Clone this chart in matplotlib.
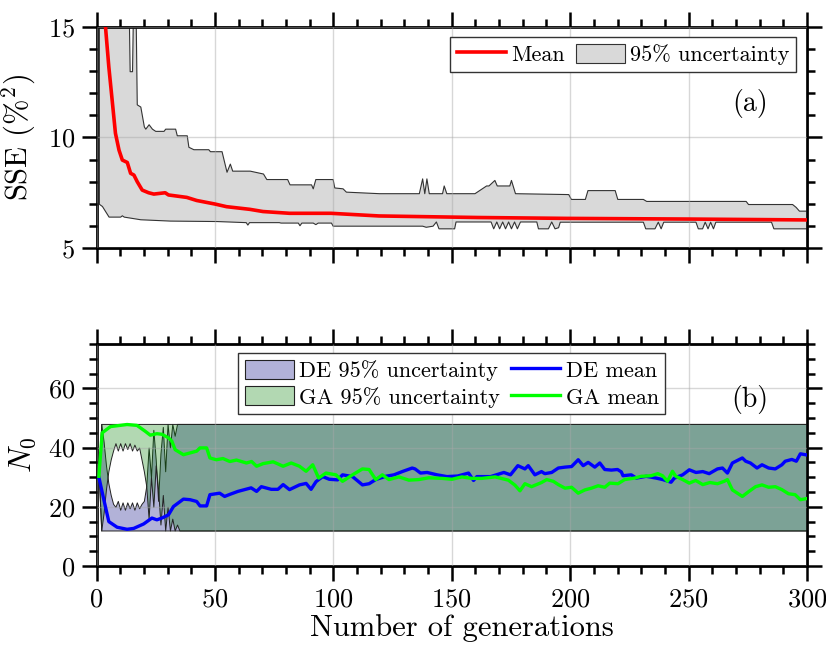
import numpy as np
import matplotlib
matplotlib.use("Agg")
import matplotlib.pyplot as plt
from matplotlib.patches import Patch
from matplotlib.lines import Line2D

plt.rcParams['font.family'] = 'cmr10'
plt.rcParams['mathtext.fontset'] = 'cm'
plt.rcParams['axes.formatter.use_mathtext'] = True

# ---------------- (a) SSE ----------------
sse_up_x = [1, 13, 14, 15, 16, 17, 18.5, 20, 20.6, 22, 23.4, 24.8, 28.3, 29, 33.2, 33.9, 38.1, 38.8,
            40.9, 47.2, 47.9, 52.8, 54.9, 56.3, 57.3, 64.7, 70.3, 71.7, 80.5, 81.5, 90.6, 91.3, 92.4,
            99.7, 100.4, 103.9, 105.3, 119.3, 136.1, 137.5, 138.4, 139.3, 140.3, 145.9, 146.6, 147.7,
            159.6, 164.5, 165.5, 168, 169, 174.3, 175, 176.7, 199.2, 200.3, 206.2, 207.3, 218.8, 219.9,
            230.7, 232.1, 274.1, 275.1, 293.7, 295.2, 296.6, 300]
sse_up = [20, 20, 13.0, 13.0, 20, 11.5, 11.4, 10.5, 10.4, 10.6, 10.4, 10.3, 10.3, 10.4, 10.4, 10.1, 10.1, 9.58,
          9.47, 9.47, 9.38, 9.38, 8.45, 8.82, 8.5, 8.5, 8.37, 8.12, 8.12, 7.88, 7.88, 7.70, 8.12,
          8.12, 7.74, 7.7, 7.55, 7.48, 7.48, 8.15, 7.48, 8.15, 7.48, 7.48, 7.83, 7.48,
          7.48, 7.83, 7.83, 8.08, 7.83, 7.83, 8.08, 7.48, 7.44, 7.22, 7.22, 7.62, 7.62, 7.22,
          7.22, 7.13, 7.13, 6.99, 6.99, 6.86, 6.69, 6.69]

sse_lo_x = [1, 2.3, 5.1, 10, 10.7, 11.5, 18.5, 31, 50.6, 63, 63.7, 64.4, 77, 77.7, 85, 85.7, 86.5, 91.3,
            92.4, 93.4, 99, 99.7, 137.5, 139, 141.9, 143.3, 144.4, 151, 151.6, 166.4, 167.5, 168.8, 170,
            171.3, 172.5, 173.8, 175, 176.3, 177.5, 178.8, 185.7, 186.4, 190.6, 192, 193.4, 194.9, 195.6,
            230.7, 231.7, 235.6, 237, 238.2, 239.3, 252.9, 253.9, 255.7, 256.8, 258, 259.1, 260.3, 261.3,
            262.4, 284.8, 285.8, 300]
sse_lo = [7.0, 6.9, 6.42, 6.42, 6.48, 6.42, 6.3, 6.24, 6.22, 6.17, 6.06, 6.17, 6.17, 6.15, 6.15, 6.03, 6.15, 6.15,
          6.08, 6.15, 6.15, 6.01, 6.01, 5.96, 6.01, 6.2, 5.89, 5.89, 6.2, 6.2, 5.89, 6.2, 5.89,
          6.2, 5.89, 6.2, 5.89, 6.2, 5.89, 6.2, 6.2, 5.89, 5.89, 6.2, 5.89, 5.94, 6.19,
          6.19, 5.89, 5.89, 6.19, 5.89, 6.19, 6.19, 5.89, 5.89, 6.19, 5.89, 6.19, 5.89, 6.19,
          6.19, 6.19, 5.89, 5.89]

sse_mean_x = [1, 2, 3, 3.8, 5.2, 6.6, 8, 9.5, 10.9, 13, 14.4, 15.8, 17.2, 19.3, 22, 24.2, 29, 30.4, 38.1,
              42.3, 50, 54.9, 64.7, 70.3, 81.5, 99, 119.3, 161, 198.6, 250, 300]
sse_mean = [30, 21, 17, 15, 13.2, 11.7, 10.19, 9.43, 8.98, 8.87, 8.38, 8.3, 8.0, 7.62, 7.5, 7.44, 7.5, 7.4, 7.29,
            7.15, 6.99, 6.87, 6.75, 6.65, 6.57, 6.57, 6.45, 6.38, 6.34, 6.31, 6.27]

# ---------------- (b) N0 ----------------
de_up_x = [1, 2, 3, 4, 5, 6, 7, 8, 9, 10, 11, 12, 13, 14, 15, 16, 17, 18, 19, 20, 21, 22, 23, 24, 25,
           26, 27, 28, 29, 30, 31, 32, 33, 34, 35, 300]
de_up = [30, 48, 42, 34, 28, 24, 21, 20, 22, 19, 21.5, 19, 21.5, 19.5, 21.5, 19, 21.5, 19.5, 21, 22, 27, 40,
         30, 46, 36, 22, 38, 47, 32, 48, 40, 48, 44, 48, 48, 48]
de_lo_x = [1, 2, 300]
de_lo = [30, 12, 12]

ga_lo_x = de_up_x
ga_lo = [30, 12, 18, 26, 32, 36, 39, 41.5, 39, 41.5, 39, 41.5, 39.5, 41.5, 39, 41, 39, 40, 36, 32, 27, 16,
         30, 20, 34, 26, 14, 24, 12, 20, 12, 16, 12, 14, 12, 12]
ga_up_x = [1, 2, 300]
ga_up = [30, 48, 48]

ga_mean_x = [1, 2.4, 5.9, 12.9, 17.1, 20.6, 22.7, 25.5, 27.6, 30.4, 31.8, 33.2, 36.7, 39.5, 42.3, 43.7, 46.5,
             47.9, 50.6, 53.4, 56.3, 59.1, 63.3, 65.5, 67.6, 70.4, 74.6, 78.8, 82.2, 85.7, 88.5, 91.3, 93.8,
             96.9, 101.1, 103.9, 108.1, 112.3, 115.1, 117.9, 120.7, 123.5, 127.7, 131.9, 136.1, 140.3, 145.9,
             150.1, 154.3, 158.5, 162.7, 168.3, 173.9, 176.7, 178.8, 180.9, 183.7, 187.9, 190.1, 192.9, 195,
             197.8, 200.6, 203.4, 206.2, 209, 211.8, 214.6, 216.7, 220.2, 223, 227.2, 230, 234.2, 237, 239,
             241.1, 243.2, 244.6, 247.5, 250.3, 253, 256, 259, 262.2, 265, 266.4, 268.5, 272.7, 275.5, 278.3,
             281, 283.8, 286.6, 289.4, 292.2, 295, 297.2, 300]
ga_mean = [30.3, 45, 47.1, 47.8, 47.5, 45.5, 44.2, 44.7, 44.5, 43.3, 42.2, 39.3, 37.6, 38.2, 38.8, 39.9, 39.9,
           36.5, 35.9, 36.3, 35.3, 35.8, 34.8, 35.3, 33.7, 34.6, 35.2, 33.7, 34.8, 33.7, 32, 34.2, 29.7,
           31.4, 30.8, 28.6, 30.8, 32.8, 32.6, 29.2, 30.8, 29.2, 30.1, 29, 29.2, 29.8, 29.6,
           29.3, 30.1, 29.6, 29.6, 30.1, 29, 27.3, 25.4, 27.8, 26.8, 28.2, 29.2, 28.6, 27.5,
           26.3, 26.6, 24.6, 25.7, 26.3, 27.1, 26.6, 28, 27.8, 29.2, 29.7, 30.3, 30.5, 31.2, 30.5,
           28.6, 32.0, 30.3, 29.2, 28, 28.9, 27.5, 28.2, 27.8, 28.6, 29.2, 25.7, 23.5, 25.2, 26.8,
           27.4, 26.6, 26.8, 25.8, 24.4, 24.1, 22.4, 22.8]

de_mean_x = [1, 3.1, 5.2, 8.7, 12.9, 15.7, 19.9, 23.4, 25.5, 27.6, 30.4, 32.5, 36.7, 39.5, 42.3, 43.7, 46.5,
             47.9, 52, 54.1, 56.3, 59.7, 62.5, 65.3, 67.6, 69.6, 73.8, 76.6, 78.8, 81.5, 85.7, 88.5, 90.6,
             92.7, 95.5, 98.3, 101.8, 103.9, 108.1, 112.3, 115.1, 117.9, 122.1, 125.6, 129.1, 133.3, 134.5,
             136.8, 139.6, 143.8, 148, 152.5, 157.1, 159.2, 160.6, 166.4, 172, 174.8, 177.9, 180.9, 182.3,
             185.1, 187.9, 189.3, 192.2, 195, 197.8, 200.6, 203.4, 205.5, 207.6, 210.4, 212.5, 214.6, 217.4,
             220, 221.6, 222.3, 225.8, 227.9, 232.1, 236.3, 239.1, 242.6, 244, 247.5, 250.3, 253.1, 256,
             258.7, 262.2, 264.3, 266.4, 268.5, 272.7, 274.1, 276.1, 278.9, 281, 283.8, 286.6, 289.4, 290.8,
             293.6, 295.5, 297.2, 300]
de_mean = [30, 22.4, 15, 13.1, 12.4, 12.7, 14.2, 16.2, 15.6, 16.2, 17.3, 20.1, 22.6, 22.4, 21.8, 20.3, 20.3,
           24.1, 24.6, 23.5, 24.2, 25.2, 25.8, 26.4, 25.2, 26.8, 25.9, 25.9, 27.5, 25.8, 27.4, 27.9, 25.9,
           28.5, 30.2, 29.3, 29.1, 30.8, 30.2, 27.4, 27.8, 29.2, 30.3, 30.8, 31.9, 33.1, 32.8,
           31.4, 31.6, 30.8, 30.2, 30.4, 31.4, 28.9, 30.2, 30.2, 31.6, 30.8, 33.9, 32.8, 33.9,
           30.8, 31.9, 31.2, 31.6, 33.1, 33.4, 33.6, 35.9, 33.9, 35, 33.4, 34.8, 32.6, 32.4,
           32.6, 31.8, 30.5, 30.8, 29.7, 30.3, 29.7, 29.2, 28.3, 29.7, 30.8, 32.5, 31.6, 31.9,
           31.2, 32.8, 33.1, 31.4, 34.8, 36.5, 35.4, 34.8, 33.1, 34.2, 33.1, 32.8, 34.2, 35.4,
           36, 35.4, 37.9, 37.5]

# ------------------------------------------------------------
TICK_FS = 19
LABEL_FS = 22
LEG_FS = 16
TAG_FS = 20

fig = plt.figure(figsize=(8.26, 6.48), dpi=100)
W, H = 826, 648
def ax_rect(l, r, t, b):
    return [l / W, 1 - b / H, (r - l) / W, (b - t) / H]

ax1 = fig.add_axes(ax_rect(96.5, 807, 27, 248))
ax2 = fig.add_axes(ax_rect(96.5, 807, 344, 566))

def style(ax):
    for s in ax.spines.values():
        s.set_linewidth(2)
    ax.tick_params(which='both', direction='out', top=True, right=True, width=1.8,
                   labelsize=TICK_FS, pad=5)
    ax.tick_params(which='major', length=10.5)
    ax.tick_params(which='minor', length=5.5)
    ax.set_axisbelow(False)
    ax.grid(True, which='major', color='#a8a8a8', alpha=0.45, lw=1.0)
    ax.set_xlim(0, 300)
    ax.set_xticks(np.arange(0, 301, 50))
    ax.set_xticks(np.arange(0, 301, 10), minor=True)

# (a)
style(ax1)
sx = np.union1d(sse_up_x, sse_lo_x)
ax1.fill_between(sx, np.interp(sx, sse_lo_x, sse_lo), np.interp(sx, sse_up_x, sse_up),
                 facecolor='#d9d9d9', edgecolor='#333333', linewidth=0.8, zorder=1)
ax1.plot(sse_mean_x, sse_mean, color='red', lw=2.6, zorder=3)
ax1.set_ylim(5, 15)
ax1.set_yticks([5, 10, 15])
ax1.set_yticks(np.arange(5, 15.1, 1), minor=True)
ax1.tick_params(labelbottom=False)
ax1.set_ylabel(r'SSE (%$^2$)', fontsize=LABEL_FS, labelpad=7)
ax1.text(0.920, 0.656, '(a)', transform=ax1.transAxes, fontsize=TAG_FS, ha='center', va='center')
h1 = [Line2D([], [], color='red', lw=2.6),
      Patch(facecolor='#d9d9d9', edgecolor='#333333', linewidth=0.8)]
leg1 = ax1.legend(h1, ['Mean', '95% uncertainty'], ncol=2, loc='upper right',
                  bbox_to_anchor=(0.985, 0.955), fontsize=LEG_FS, frameon=True, fancybox=False,
                  edgecolor='#333333', framealpha=1, handlelength=2.2, handleheight=0.95,
                  handletextpad=0.25, columnspacing=0.5, borderpad=0.3, borderaxespad=0.0)
leg1.get_frame().set_linewidth(1.0)

# (b)
style(ax2)
gx = np.union1d(de_up_x, de_lo_x)
de_fc = (0, 0, 0.5, 0.3)
ga_fc = (0, 0.5, 0, 0.3)
ax2.fill_between(gx, np.interp(gx, de_lo_x, de_lo), np.interp(gx, de_up_x, de_up),
                 facecolor=de_fc, edgecolor='#222222', linewidth=0.7, zorder=1)
ax2.fill_between(gx, np.interp(gx, ga_lo_x, ga_lo), np.interp(gx, ga_up_x, ga_up),
                 facecolor=ga_fc, edgecolor='#222222', linewidth=0.7, zorder=1)
ax2.plot(de_mean_x, de_mean, color='#0000ff', lw=2.4, zorder=3)
ax2.plot(ga_mean_x, ga_mean, color='#00ff00', lw=2.4, zorder=3)
ax2.set_ylim(0, 75)
ax2.set_yticks([0, 20, 40, 60])
ax2.set_yticks(np.arange(0, 75.1, 5), minor=True)
ax2.set_ylabel(r'$N_0$', fontsize=LABEL_FS, labelpad=7)
ax2.set_xlabel('Number of generations', fontsize=LABEL_FS, labelpad=2)
ax2.xaxis.label.set_x(0.514)
ax2.text(0.920, 0.748, '(b)', transform=ax2.transAxes, fontsize=TAG_FS, ha='center', va='center')
h2 = [Patch(facecolor=de_fc, edgecolor='#222222', linewidth=0.8),
      Patch(facecolor=ga_fc, edgecolor='#222222', linewidth=0.8),
      Line2D([], [], color='#0000ff', lw=2.4),
      Line2D([], [], color='#00ff00', lw=2.4)]
leg2 = ax2.legend(h2, ['DE 95% uncertainty', 'GA 95% uncertainty', 'DE mean', 'GA mean'], ncol=2,
                  loc='upper center', bbox_to_anchor=(0.5, 0.96), fontsize=LEG_FS, frameon=True,
                  fancybox=False, edgecolor='#333333', framealpha=1, handlelength=2.2,
                  handleheight=0.95, handletextpad=0.25, columnspacing=0.5, borderpad=0.3,
                  labelspacing=0.25, borderaxespad=0.0)
leg2.get_frame().set_linewidth(1.0)

fig.savefig('out.png', dpi=100)
